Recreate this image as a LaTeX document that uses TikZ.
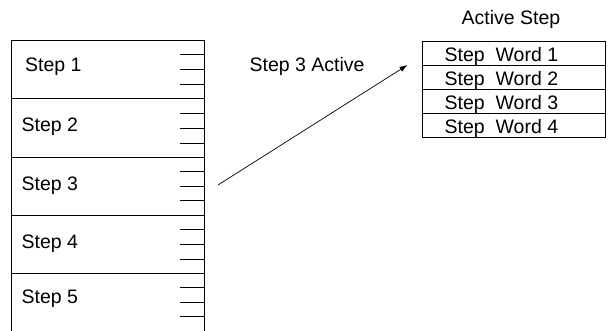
\documentclass[tikz,border=0pt]{standalone}
\usepackage{fontspec}
\setmainfont{Liberation Sans}
\usetikzlibrary{arrows.meta,calc}
\tikzset{
  lbl/.style={anchor=base west, inner sep=0pt, font=\fontsize{19.5}{22}\selectfont},
  rowbox/.style={draw, line width=0.9pt, inner sep=0pt},
  tick/.style={line width=0.9pt},
  conn/.style={line width=0.7pt, -{Latex[length=8pt,width=5.5pt]}}
}
\begin{document}
\begin{tikzpicture}[x=1pt,y=-1pt]
\useasboundingbox (0,0) rectangle (609,331);
% left stack of step rows
\foreach \i/\ytop/\ybot in {1/40/98.5, 2/98.5/157, 3/157/214.5, 4/214.5/273, 5/273/330.5}{
  \node[rowbox, minimum width=193pt, minimum height={(\ybot-\ytop)*1pt}, anchor=north west] (row\i) at (10.5,\ytop) {};
  \foreach \f in {0.25,0.5,0.75}{
    \draw[tick] ($(row\i.north east)!\f!(row\i.south east)$) -- ++(-24,0);
  }
}
\node[lbl] (s1) at (25,72) {Step 1};
\node[lbl] (s2) at (21.5,131.5) {Step 2};
\node[lbl] (s3) at (21.5,190) {Step 3};
\node[lbl] (s4) at (21.5,248) {Step 4};
\node[lbl] (s5) at (21.5,303) {Step 5};
% right table
\node[lbl] (title) at (461.5,25) {Active Step};
\foreach \i/\ytop in {1/41.5, 2/65.5, 3/89.5, 4/113.5}{
  \node[rowbox, minimum width=183pt, minimum height=24pt, anchor=north west] (w\i) at (421.5,\ytop) {};
  \node[lbl] (wt\i) at (444.5,\ytop+20.5) {Step\ \ Word \i};
}
% connector
\node[lbl] (act) at (249.5,72) {Step 3 Active};
\coordinate (from) at (218,185);
\coordinate (to) at (407.5,65);
\draw[conn] (from) -- (to);
\end{tikzpicture}
\end{document}
